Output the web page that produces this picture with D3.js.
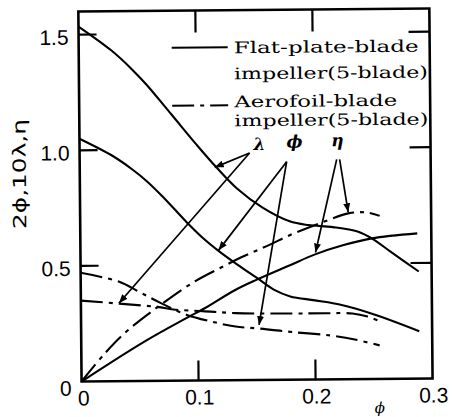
<!DOCTYPE html>
<html>
<head>
<meta charset="utf-8">
<script src="https://cdn.jsdelivr.net/npm/d3@7"></script>
<style>
  body { margin: 0; background: #fff; }
  svg { display: block; }
  .tick-label { font-family: "Liberation Sans", Arial, sans-serif; font-size: 21px; fill: #000; }
  .legend-text { font-family: "DejaVu Serif", serif; font-size: 16px; fill: #000; }
  .greek { font-family: "DejaVu Serif", serif; font-style: italic; font-weight: bold; font-size: 17px; fill: #000; }
</style>
</head>
<body>
<svg id="chart" width="452" height="417"></svg>
<script>
// flat-plate-blade impeller (solid)
const flatLambdaPhi = [0, 0.028, 0.045, 0.057, 0.079, 0.1, 0.117, 0.134, 0.156, 0.179, 0.195, 0.216, 0.237, 0.25, 0.265, 0.289];
const flatLambdaVal = [1.535, 1.43, 1.35, 1.285, 1.15, 1.02, 0.92, 0.83, 0.745, 0.685, 0.668, 0.658, 0.638, 0.605, 0.55, 0.463];

const flatPsiPhi = [0, 0.028, 0.045, 0.057, 0.071, 0.091, 0.105, 0.118, 0.134, 0.151, 0.165, 0.179, 0.2, 0.222, 0.25, 0.289];
const flatPsiVal = [1.05, 0.975, 0.915, 0.865, 0.795, 0.685, 0.615, 0.56, 0.5, 0.44, 0.39, 0.36, 0.342, 0.322, 0.28, 0.205];

const flatEtaPhi = [0, 0.054, 0.09, 0.105, 0.132, 0.151, 0.179, 0.2, 0.225, 0.249, 0.288];
const flatEtaVal = [0, 0.17, 0.27, 0.31, 0.39, 0.435, 0.495, 0.54, 0.58, 0.608, 0.628];

// aerofoil-blade impeller (dash-dot)
const aeroLambdaPhi = [0, 0.038, 0.065, 0.081, 0.104, 0.132, 0.18, 0.21, 0.232, 0.245, 0.255];
const aeroLambdaVal = [0.35, 0.333, 0.32, 0.307, 0.3, 0.29, 0.286, 0.286, 0.284, 0.27, 0.25];

const aeroPsiPhi = [0, 0.033, 0.05, 0.068, 0.09, 0.115, 0.132, 0.153, 0.182, 0.213, 0.235, 0.255];
const aeroPsiVal = [0.47, 0.43, 0.385, 0.337, 0.285, 0.25, 0.232, 0.222, 0.205, 0.19, 0.17, 0.145];

const aeroEtaPhi = [0, 0.02, 0.04, 0.07, 0.098, 0.121, 0.137, 0.162, 0.179, 0.21, 0.23, 0.245, 0.256];
const aeroEtaVal = [0, 0.12, 0.22, 0.335, 0.43, 0.49, 0.53, 0.585, 0.625, 0.685, 0.718, 0.72, 0.705];

const xTicks = [0, 0.1, 0.2, 0.3];
const xTickLabels = ["0", "0.1", "0.2", "0.3"];
const yTicks = [0, 0.5, 1.0, 1.5];
const yTickLabels = ["0", "0.5", "1.0", "1.5"];

const legendLabels = [["Flat-plate-blade", "impeller(5-blade)"], ["Aerofoil-blade", "impeller(5-blade)"]];

// curve labels and their arrows, in data units
const noteLabels = ["λ", "ϕ", "η"];
const noteLabelPos = [[0.1538, 0.995], [0.1838, 1.004], [0.2205, 1.008]];
const noteArrows = [
  [[0.1453, 0.982], [0.1154, 0.921]],
  [[0.1453, 0.982], [0.0325, 0.337]],
  [[0.1769, 0.943], [0.118, 0.562]],
  [[0.1769, 0.943], [0.1521, 0.238]],
  [[0.2197, 0.951], [0.2009, 0.549]],
  [[0.2222, 0.951], [0.2291, 0.722]]
];

const svg = d3.select("#chart");
const g = svg.append("g").attr("transform", "rotate(-0.5,255,200)");

const x = d3.scaleLinear().domain([0, 0.3]).range([80, 431]);
const y = d3.scaleLinear().domain([0, 1.6]).range([380, 10]);

svg.append("defs").append("marker")
  .attr("id", "arrow")
  .attr("viewBox", "0 0 9 7")
  .attr("refX", 9).attr("refY", 3.5)
  .attr("markerWidth", 9).attr("markerHeight", 7)
  .attr("markerUnits", "userSpaceOnUse")
  .attr("orient", "auto")
  .append("path").attr("d", "M0,0 L9,3.5 L0,7 z").attr("fill", "#000");

// frame
g.append("rect")
  .attr("x", x(0)).attr("y", y(1.6))
  .attr("width", x(0.3) - x(0)).attr("height", y(0) - y(1.6))
  .attr("fill", "none").attr("stroke", "#000").attr("stroke-width", 2.6);

// inward ticks on all four sides
const innerX = [0.1, 0.2];
const innerY = [0.5, 1.0, 1.5];
const ticks = g.append("g").attr("stroke", "#000").attr("stroke-width", 2.2);
ticks.selectAll(".tb").data(innerX).enter().append("line")
  .attr("x1", d => x(d)).attr("x2", d => x(d))
  .attr("y1", y(0)).attr("y2", y(0) - 20);
ticks.selectAll(".tt").data(innerX).enter().append("line")
  .attr("x1", d => x(d)).attr("x2", d => x(d))
  .attr("y1", y(1.6)).attr("y2", y(1.6) + 22);
ticks.selectAll(".tl").data(innerY).enter().append("line")
  .attr("x1", x(0)).attr("x2", x(0) + 18)
  .attr("y1", d => y(d)).attr("y2", d => y(d));
ticks.selectAll(".tr").data(innerY).enter().append("line")
  .attr("x1", x(0.3)).attr("x2", x(0.3) - 21)
  .attr("y1", d => y(d)).attr("y2", d => y(d));

// tick labels
g.selectAll(".xlab").data(xTicks).enter().append("text")
  .attr("class", "tick-label")
  .attr("x", (d, i) => x(d) + (i === 0 ? 2 : 1))
  .attr("y", y(0) + 24)
  .attr("text-anchor", "middle")
  .text((d, i) => xTickLabels[i]);

g.selectAll(".ylab").data(yTicks).enter().append("text")
  .attr("class", "tick-label")
  .attr("x", x(0) - 10)
  .attr("y", (d, i) => y(d) + (i === 0 ? 14 : 10))
  .attr("text-anchor", "end")
  .text((d, i) => yTickLabels[i]);

g.append("text")
  .attr("x", 378).attr("y", 414)
  .attr("text-anchor", "middle")
  .style("font-family", "DejaVu Serif, serif").style("font-style", "italic")
  .style("font-size", "15px")
  .text("ϕ");

g.append("text")
  .attr("transform", "translate(26,172) rotate(-90)")
  .attr("text-anchor", "middle")
  .attr("textLength", 110).attr("lengthAdjust", "spacingAndGlyphs")
  .style("font-family", "DejaVu Sans, sans-serif").style("font-size", "18px")
  .text("2ϕ,10λ,η");

// curves
const line = d3.line().x(d => x(d[0])).y(d => y(d[1])).curve(d3.curveCatmullRom.alpha(0.5));
const dashDot = "22,6,4,6";

const series = [
  [flatLambdaPhi, flatLambdaVal, null],
  [flatPsiPhi, flatPsiVal, null],
  [flatEtaPhi, flatEtaVal, null],
  [aeroLambdaPhi, aeroLambdaVal, dashDot],
  [aeroPsiPhi, aeroPsiVal, dashDot],
  [aeroEtaPhi, aeroEtaVal, dashDot]
];

series.forEach(([px, py, dash]) => {
  g.append("path")
    .datum(px.map((p, i) => [p, py[i]]))
    .attr("d", line)
    .attr("fill", "none")
    .attr("stroke", "#000")
    .attr("stroke-width", 2.1)
    .attr("stroke-dasharray", dash);
});

// arrows and greek labels
noteArrows.forEach(([a, b]) => {
  g.append("line")
    .attr("x1", x(a[0])).attr("y1", y(a[1]))
    .attr("x2", x(b[0])).attr("y2", y(b[1]))
    .attr("stroke", "#000").attr("stroke-width", 1.7)
    .attr("marker-end", "url(#arrow)");
});

g.selectAll(".note").data(noteLabels).enter().append("text")
  .attr("class", "greek")
  .attr("x", (d, i) => x(noteLabelPos[i][0]))
  .attr("y", (d, i) => y(noteLabelPos[i][1]))
  .attr("text-anchor", "middle")
  .text(d => d);

// legend
const legendLineY = [47, 105];
const legendTextY = [[53, 79], [107, 126]];
const legendLen = [[185, 194], [163, 194]];
legendLabels.forEach((lines, i) => {
  g.append("line")
    .attr("x1", 173).attr("x2", 229)
    .attr("y1", legendLineY[i]).attr("y2", legendLineY[i])
    .attr("stroke", "#000").attr("stroke-width", 2)
    .attr("stroke-dasharray", i === 0 ? null : dashDot);
  lines.forEach((t, j) => {
    g.append("text")
      .attr("class", "legend-text")
      .attr("x", 235)
      .attr("y", legendTextY[i][j])
      .attr("textLength", legendLen[i][j]).attr("lengthAdjust", "spacingAndGlyphs")
      .text(t);
  });
});
</script>
</body>
</html>
